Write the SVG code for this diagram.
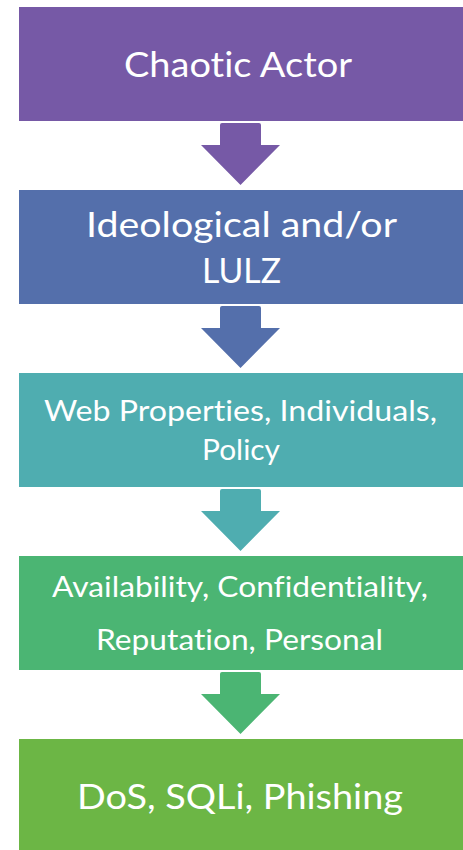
<svg xmlns="http://www.w3.org/2000/svg" width="463" height="850" viewBox="0 0 463 850">
  <style>
    .lbl { fill: #ffffff; font-family: Lato, "Open Sans", "Liberation Sans", sans-serif; text-anchor: middle; font-variant-ligatures: none; font-feature-settings: "liga" 0, "clig" 0; }
    .big { font-size: 35px; }
    .small { font-size: 28.5px; }
    .purple { fill: #7659A6; }
    .blue { fill: #546FAB; }
    .teal { fill: #4FADB0; }
    .green { fill: #4BB573; }
    .lime { fill: #6CB645; }
  </style>
  <defs>
    <!-- block arrow, origin at the bottom edge of the box above it -->
    <path id="down" d="M222,2 L259,2 Q261,2 261,4 L261,24 L280,24 L240.5,64 L201,24 L220,24 L220,4 Q220,2 222,2 Z"/>
  </defs>
  <rect width="463" height="850" fill="#ffffff"/>

  <g id="connectors">
    <use href="#down" class="purple" transform="translate(0,121)"/>
    <use href="#down" class="blue" transform="translate(0,304)"/>
    <use href="#down" class="teal" transform="translate(0,487)"/>
    <use href="#down" class="green" transform="translate(0,670)"/>
  </g>

  <g id="chaotic-actor">
    <rect x="19" y="7" width="450" height="114" class="purple"/>
    <text class="lbl big" x="238" y="77" textLength="228" lengthAdjust="spacingAndGlyphs">Chaotic Actor</text>
  </g>

  <g id="motivation">
    <rect x="19" y="190" width="450" height="114" class="blue"/>
    <text class="lbl big" x="241.5" y="237" textLength="311" lengthAdjust="spacingAndGlyphs">Ideological and/or</text>
    <text class="lbl big" x="241.5" y="283" textLength="79" lengthAdjust="spacingAndGlyphs">LULZ</text>
  </g>

  <g id="targets">
    <rect x="19" y="373" width="450" height="114" class="teal"/>
    <text class="lbl small" x="240.5" y="421" textLength="393" lengthAdjust="spacingAndGlyphs">Web Properties, Individuals,</text>
    <text class="lbl small" x="241" y="460" textLength="78" lengthAdjust="spacingAndGlyphs">Policy</text>
  </g>

  <g id="impact">
    <rect x="19" y="556" width="450" height="114" class="green"/>
    <text class="lbl small" x="240" y="597" textLength="376" lengthAdjust="spacingAndGlyphs">Availability, Confidentiality,</text>
    <text class="lbl small" x="239.5" y="650" textLength="287" lengthAdjust="spacingAndGlyphs">Reputation, Personal</text>
  </g>

  <g id="methods">
    <rect x="19" y="739" width="450" height="120" class="lime"/>
    <text class="lbl big" x="240" y="809" textLength="326" lengthAdjust="spacingAndGlyphs">DoS, SQLi, Phishing</text>
  </g>
</svg>
